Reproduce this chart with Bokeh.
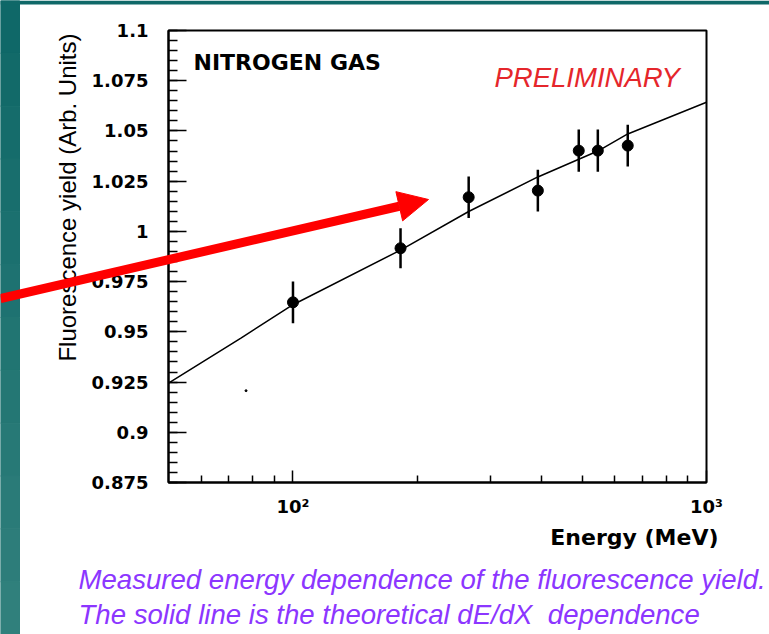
import math
from bokeh.plotting import figure
from bokeh.models import Range1d, FixedTicker, Label, Arrow, NormalHead
from bokeh.embed import file_html
from bokeh.resources import INLINE

# ---------------- data ----------------
energy = [100, 182, 266, 391, 491, 546, 645]                 # MeV
yield_meas = [0.9647, 0.9916, 1.0170, 1.0203, 1.0402, 1.0402, 1.0427]
yield_err = [0.0104, 0.0100, 0.0103, 0.0104, 0.0105, 0.0105, 0.0104]

theory_energy = [50, 75, 100, 182, 266, 391, 546, 645, 1000]
theory_yield = [0.9245, 0.9470, 0.9635, 0.9907, 1.0099, 1.0271, 1.0400, 1.0485, 1.0643]

stray_energy = [77]
stray_yield = [0.9207]

y_ticks = [0.875, 0.9, 0.925, 0.95, 0.975, 1.0, 1.025, 1.05, 1.075, 1.1]
y_tick_labels = ["0.875", "0.9", "0.925", "0.95", "0.975", "1", "1.025", "1.05", "1.075", "1.1"]
y_minor_ticks = [round(0.875 + 0.005 * i, 3) for i in range(46)]
x_ticks = [100, 1000]
x_tick_labels = ["10\u00b2", "10\u00b3"]
x_minor_ticks = [60, 70, 80, 90, 200, 300, 400, 500, 600, 700, 800, 900]

W, H = 769, 634

# ---------------- main chart ----------------
p = figure(width=W, height=H, x_axis_type="log",
           x_range=Range1d(50, 1000), y_range=Range1d(0.875, 1.1),
           output_backend="svg", toolbar_location=None,
           min_border_left=168, min_border_right=63,
           min_border_top=30, min_border_bottom=152)
p.styles = {"position": "absolute", "top": "0px", "left": "0px"}
p.grid.visible = False
p.background_fill_color = "white"
p.border_fill_color = "white"
p.outline_line_color = "black"
p.outline_line_width = 2

xa = p.xaxis[0]
xa.ticker = FixedTicker(ticks=x_ticks, minor_ticks=x_minor_ticks)
xa.major_label_overrides = dict(zip(x_ticks, x_tick_labels))
xa.axis_line_width = 2
xa.major_tick_in = 12
xa.major_tick_out = 0
xa.minor_tick_in = 7
xa.minor_tick_out = 0
xa.major_tick_line_width = 1.5
xa.minor_tick_line_width = 1.5
xa.major_label_text_font = "DejaVu Sans"
xa.major_label_text_font_style = "bold"
xa.major_label_text_font_size = "18px"
xa.major_label_text_color = "black"
xa.major_label_standoff = 13

ya = p.yaxis[0]
ya.ticker = FixedTicker(ticks=y_ticks, minor_ticks=y_minor_ticks)
ya.major_label_overrides = dict(zip(y_ticks, y_tick_labels))
ya.axis_line_width = 2
ya.major_tick_in = 18
ya.major_tick_out = 0
ya.minor_tick_in = 9
ya.minor_tick_out = 0
ya.major_tick_line_width = 1.5
ya.minor_tick_line_width = 1.5
ya.major_label_text_font = "DejaVu Sans"
ya.major_label_text_font_style = "bold"
ya.major_label_text_font_size = "18px"
ya.major_label_text_color = "black"
ya.major_label_standoff = 20

p.line(theory_energy, theory_yield, line_color="black", line_width=1.5)
lo = [v - e for v, e in zip(yield_meas, yield_err)]
hi = [v + e for v, e in zip(yield_meas, yield_err)]
p.segment(x0=energy, y0=lo, x1=energy, y1=hi, line_color="black", line_width=2.5)
p.scatter(energy, yield_meas, size=11, color="black")
p.scatter(stray_energy, stray_yield, size=2, color="black")

# ---------------- transparent overlay in page pixels (texts, slide decoration, arrow) ----------------
ov = figure(width=W, height=H, x_range=Range1d(0, W), y_range=Range1d(H, 0),
            output_backend="svg", toolbar_location=None,
            x_axis_location=None, y_axis_location=None, min_border=0)
ov.styles = {"position": "absolute", "top": "0px", "left": "0px"}
ov.grid.visible = False
ov.outline_line_color = None
ov.background_fill_alpha = 0
ov.border_fill_alpha = 0

# teal slide edges (left strip darkens toward the top)
n_band = 12
c0, c1 = (15, 104, 104), (48, 128, 124)
for i in range(n_band):
    t = i / (n_band - 1)
    col = "#%02x%02x%02x" % tuple(int(a + (b - a) * t) for a, b in zip(c0, c1))
    ov.quad(left=0, right=19, top=H * i / n_band, bottom=H * (i + 1) / n_band,
            fill_color=col, line_color=col, line_width=1)
ov.quad(left=0, right=W, top=0, bottom=4, fill_color="#0f6868", line_color=None)

def lab(text, x, y, size, color="black", font="Liberation Sans", style="normal",
        align="left", baseline="alphabetic", angle=0.0):
    ov.add_layout(Label(x=x, y=y, text=text,
                        text_font=font, text_font_size=size, text_font_style=style,
                        text_color=color, text_align=align, text_baseline=baseline,
                        angle=angle))

lab("NITROGEN GAS", 193, 62, "22px", font="DejaVu Sans", style="bold")
lab("PRELIMINARY", 494, 77, "27.5px", color="#e5262b", style="italic")
lab("Energy (MeV)", 718, 537, "22px", font="DejaVu Sans", style="bold", align="right")
lab("Fluorescence yield (Arb. Units)", 67, 33, "24px", align="right", angle=math.pi / 2)
lab("Measured energy dependence of the fluorescence yield.", 78, 579, "27.6px",
    color="#8c36ff", style="italic")
lab("The solid line is the theoretical dE/dX\u00a0 dependence", 78, 614, "27.6px",
    color="#8c36ff", style="italic")

ov.add_layout(Arrow(x_start=0, y_start=298, x_end=428, y_end=199,
                    line_color="#ff0000", line_width=9,
                    end=NormalHead(size=30, fill_color="#ff0000", line_color="#ff0000",
                                   line_width=1)))

open("out.html", "w").write(file_html([p, ov], INLINE))
